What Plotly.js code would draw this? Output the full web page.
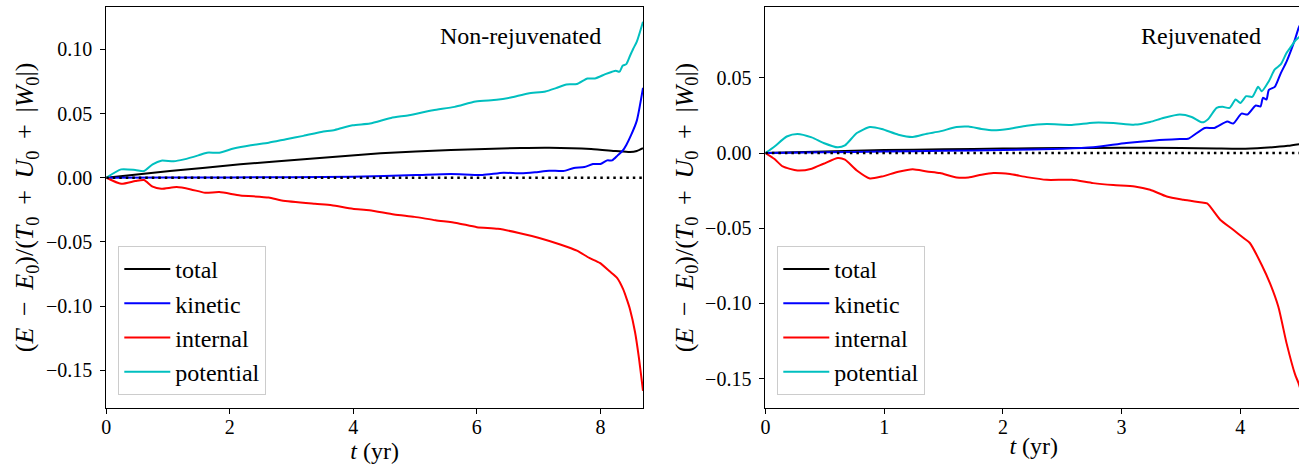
<!DOCTYPE html>
<html>
<head>
<meta charset="utf-8">
<script src="https://cdn.plot.ly/plotly-3.0.1.min.js"></script>
<style>html,body{margin:0;padding:0;overflow:hidden;background:#fff;}</style>
</head>
<body>
<div id="chart"></div>
<script>
// ---------- Non-rejuvenated panel ----------
const nrTotalT = [0, 1.03, 2.17, 3.3, 4.44, 5.58, 6.71, 7.17, 7.85, 8.25, 8.48, 8.59, 8.69];
const nrTotalE = [0, 0.0052, 0.0104, 0.0148, 0.019, 0.0216, 0.0232, 0.0234, 0.0224, 0.0208, 0.0200, 0.0208, 0.0230];

const nrKinT = [0, 1.0, 2.0, 3.0, 4.0, 5.01, 5.58, 6.09, 6.43, 6.71, 6.94, 7.17, 7.4, 7.57, 7.74, 7.88, 8.0, 8.11, 8.19, 8.28, 8.36, 8.42, 8.5, 8.59, 8.69];
const nrKinE = [0, 0.0001, 0.0002, 0.0004, 0.0008, 0.0021, 0.0029, 0.0021, 0.0039, 0.0034, 0.0042, 0.0055, 0.0052, 0.0076, 0.0083, 0.0107, 0.0107, 0.0135, 0.0135, 0.0174, 0.0210, 0.0255, 0.0335, 0.0445, 0.0700];

const nrIntT = [0, 0.24, 0.47, 0.61, 0.75, 0.89, 1.14, 1.37, 1.6, 1.83, 2.17, 2.63, 2.84, 3.38, 3.65, 3.99, 4.26, 4.66, 4.99, 5.33, 5.67, 6.0, 6.34, 6.68, 7.01, 7.35, 7.62, 7.82, 7.99, 8.15, 8.27, 8.37, 8.43, 8.48, 8.56, 8.62, 8.69];
const nrIntE = [0, -0.0047, -0.0026, -0.0018, -0.007, -0.0086, -0.0073, -0.0091, -0.0117, -0.0112, -0.0138, -0.0154, -0.0177, -0.0203, -0.0214, -0.0242, -0.0253, -0.0286, -0.0305, -0.0331, -0.0352, -0.0385, -0.0398, -0.043, -0.0469, -0.052, -0.0568, -0.0625, -0.0664, -0.0729, -0.078, -0.087, -0.095, -0.1026, -0.12, -0.139, -0.166];

const nrPotT = [0, 0.24, 0.47, 0.61, 0.75, 0.89, 1.09, 1.26, 1.49, 1.63, 1.83, 2.06, 2.34, 2.63, 2.91, 3.19, 3.48, 3.7, 3.99, 4.27, 4.61, 4.9, 5.29, 5.64, 5.98, 6.32, 6.55, 6.83, 7.11, 7.28, 7.45, 7.62, 7.79, 7.91, 8.08, 8.19, 8.25, 8.31, 8.36, 8.42, 8.48, 8.53, 8.59, 8.69];
const nrPotE = [0, 0.0065, 0.006, 0.0052, 0.0104, 0.0133, 0.0128, 0.0143, 0.0174, 0.0195, 0.0195, 0.0227, 0.0253, 0.0273, 0.030, 0.0326, 0.0357, 0.0372, 0.0409, 0.0422, 0.0466, 0.0487, 0.0526, 0.0552, 0.0594, 0.0607, 0.0625, 0.0656, 0.0672, 0.0698, 0.0727, 0.073, 0.0773, 0.0773, 0.0807, 0.0826, 0.0833, 0.0826, 0.0872, 0.0885, 0.095, 0.1003, 0.106, 0.1215];

// ---------- Rejuvenated panel ----------
const rjTotalT = [0, 0.5, 1.0, 1.5, 2.0, 2.5, 3.0, 3.5, 3.8, 4.0, 4.2, 4.4, 4.52];
const rjTotalE = [0, 0.001, 0.002, 0.0025, 0.003, 0.0033, 0.0035, 0.0034, 0.003, 0.0028, 0.0035, 0.0048, 0.0062];

const rjKinT = [0, 0.5, 1.0, 1.5, 2.0, 2.5, 2.76, 3.04, 3.28, 3.49, 3.56, 3.7, 3.78, 3.89, 3.94, 4.01, 4.06, 4.13, 4.17, 4.19, 4.22, 4.24, 4.29, 4.34, 4.39, 4.46, 4.49, 4.52];
const rjKinE = [0, 0.0005, 0.001, 0.0015, 0.002, 0.0028, 0.0038, 0.0067, 0.0084, 0.0093, 0.0095, 0.0167, 0.0167, 0.021, 0.0196, 0.0262, 0.0256, 0.0316, 0.031, 0.0367, 0.0356, 0.042, 0.044, 0.053, 0.061, 0.0756, 0.083, 0.088];

const rjIntT = [0, 0.077, 0.146, 0.27, 0.39, 0.49, 0.61, 0.67, 0.77, 0.88, 0.98, 1.12, 1.24, 1.36, 1.47, 1.61, 1.71, 1.82, 1.92, 2.06, 2.2, 2.37, 2.58, 2.76, 2.93, 3.11, 3.24, 3.38, 3.52, 3.66, 3.72, 3.83, 3.94, 4.03, 4.08, 4.18, 4.25, 4.32, 4.39, 4.46, 4.49, 4.52];
const rjIntE = [0, -0.004, -0.0089, -0.0116, -0.0104, -0.0071, -0.0033, -0.0044, -0.0116, -0.0169, -0.0156, -0.0124, -0.0107, -0.0122, -0.0133, -0.0162, -0.0162, -0.0144, -0.0133, -0.014, -0.016, -0.0178, -0.0178, -0.020, -0.0213, -0.0222, -0.0244, -0.0289, -0.031, -0.0327, -0.0335, -0.0443, -0.051, -0.0567, -0.0598, -0.0744, -0.0867, -0.1022, -0.1267, -0.147, -0.153, -0.161];

const rjPotT = [0, 0.077, 0.18, 0.27, 0.39, 0.49, 0.61, 0.67, 0.77, 0.88, 0.98, 1.12, 1.24, 1.36, 1.47, 1.61, 1.71, 1.82, 1.92, 2.06, 2.2, 2.37, 2.58, 2.76, 2.93, 3.11, 3.24, 3.35, 3.49, 3.59, 3.68, 3.73, 3.8, 3.85, 3.91, 3.96, 4.0, 4.05, 4.1, 4.15, 4.18, 4.24, 4.29, 4.34, 4.39, 4.43, 4.46, 4.49, 4.52];
const rjPotE = [0, 0.0044, 0.011, 0.0127, 0.0104, 0.0067, 0.0038, 0.0051, 0.0133, 0.0173, 0.016, 0.0122, 0.0107, 0.0129, 0.0144, 0.0173, 0.0176, 0.016, 0.0151, 0.0162, 0.0182, 0.0193, 0.0187, 0.0202, 0.020, 0.0189, 0.0207, 0.0233, 0.0256, 0.024, 0.0204, 0.0227, 0.030, 0.0307, 0.030, 0.0356, 0.0333, 0.0378, 0.0373, 0.044, 0.0411, 0.0478, 0.0556, 0.0589, 0.0667, 0.0711, 0.0745, 0.0767, 0.079];

const seriesNames = ["total", "kinetic", "internal", "potential"];
const seriesColors = ["#000000", "#0000ff", "#ff0000", "#00bfbf"];
const xTicksLeft = [0, 2, 4, 6, 8];
const xTicksRight = [0, 1, 2, 3, 4];
const yTicksLeft = [-0.15, -0.10, -0.05, 0.00, 0.05, 0.10];
const yTicksRight = [-0.15, -0.10, -0.05, 0.00, 0.05];
const xRangeLeft = [0, 8.69];
const xRangeRight = [0, 4.52];
const yRangeLeft = [-0.1794, 0.133];
const yRangeRight = [-0.1695, 0.0971];
const panelLabels = ["Non-rejuvenated", "Rejuvenated"];

const FONT = "Liberation Serif";

function line(x, y, i, xa, ya, leg) {
  return {x: x, y: y, type: "scatter", mode: "lines", name: seriesNames[i],
    line: {color: seriesColors[i], width: 2, shape: "spline", smoothing: 0.6},
    xaxis: xa, yaxis: ya, legend: leg, showlegend: true};
}
function zeroLine(r, xa, ya) {
  return {x: r, y: [0, 0], type: "scatter", mode: "lines", showlegend: false, hoverinfo: "skip",
    line: {color: "#000", width: 2.5, dash: "2.5px,4px"}, xaxis: xa, yaxis: ya};
}

const data = [
  line(nrTotalT, nrTotalE, 0, "x", "y", "legend"),
  line(nrKinT, nrKinE, 1, "x", "y", "legend"),
  line(nrIntT, nrIntE, 2, "x", "y", "legend"),
  line(nrPotT, nrPotE, 3, "x", "y", "legend"),
  zeroLine(xRangeLeft, "x", "y"),
  line(rjTotalT, rjTotalE, 0, "x2", "y2", "legend2"),
  line(rjKinT, rjKinE, 1, "x2", "y2", "legend2"),
  line(rjIntT, rjIntE, 2, "x2", "y2", "legend2"),
  line(rjPotT, rjPotE, 3, "x2", "y2", "legend2"),
  zeroLine(xRangeRight, "x2", "y2")
];

const W = 1303;
const ytitle = "(<i>E</i> \u2009−\u2009 <i>E</i><sub>0</sub>)/(<i>T</i><sub>0</sub> \u2009+\u2009 <i>U</i><sub>0</sub> \u2009+\u2009 |<i>W</i><sub>0</sub>|)";
const xtitle = "<i>t</i> (yr)";

function xaxis(dom, range, ticks, anchor) {
  return {domain: dom, range: range, tickvals: ticks, ticktext: ticks.map(String), anchor: anchor,
    showline: true, linecolor: "#000", linewidth: 1, mirror: true, ticks: "outside", ticklen: 5, tickwidth: 1, tickcolor: "#000",
    showgrid: false, zeroline: false, tickfont: {family: FONT, size: 20, color: "#000"}, ticklabelstandoff: -4,
    title: {text: xtitle, font: {family: FONT, size: 24, color: "#000"}, standoff: 0}, automargin: false};
}
function yaxis(range, ticks, anchor) {
  return {range: range, tickvals: ticks, ticktext: ticks.map(v => (v < 0 ? "\u2212" : "") + Math.abs(v).toFixed(2)), anchor: anchor,
    showline: true, linecolor: "#000", linewidth: 1, mirror: true, ticks: "outside", ticklen: 5, tickwidth: 1, tickcolor: "#000",
    showgrid: false, zeroline: false, tickfont: {family: FONT, size: 20, color: "#000"}, ticklabelstandoff: 4,
    title: {text: ytitle, font: {family: FONT, size: 26, color: "#000"}, standoff: 4}, automargin: false};
}

const legendStyle = {font: {family: FONT, size: 24, color: "#000"}, bgcolor: "rgba(255,255,255,0.8)",
  bordercolor: "#cccccc", borderwidth: 1, xanchor: "left", yanchor: "bottom", tracegroupgap: 0, itemwidth: 46};

const layout = {
  width: W, height: 470,
  margin: {l: 0, r: 0, t: 7, b: 62, pad: 0},
  paper_bgcolor: "#fff", plot_bgcolor: "#fff",
  font: {family: FONT, color: "#000"},
  showlegend: true,
  xaxis: xaxis([106.3 / W, 643 / W], xRangeLeft, xTicksLeft, "y"),
  yaxis: yaxis(yRangeLeft, yTicksLeft, "x"),
  xaxis2: xaxis([765.4 / W, 1302.1 / W], xRangeRight, xTicksRight, "y2"),
  yaxis2: yaxis(yRangeRight, yTicksRight, "x2"),
  legend: Object.assign({x: 118.3 / W, y: 0.0324}, legendStyle),
  legend2: Object.assign({x: 777.3 / W, y: 0.0324}, legendStyle),
  annotations: [
    {text: panelLabels[0], xref: "x domain", yref: "y domain", x: 0.926, y: 0.928, xanchor: "right", yanchor: "middle",
     showarrow: false, font: {family: FONT, size: 24, color: "#000"}},
    {text: panelLabels[1], xref: "x2 domain", yref: "y2 domain", x: 0.927, y: 0.928, xanchor: "right", yanchor: "middle",
     showarrow: false, font: {family: FONT, size: 24, color: "#000"}}
  ]
};

Plotly.newPlot("chart", data, layout, {displayModeBar: false, staticPlot: true});
</script>
</body>
</html>
